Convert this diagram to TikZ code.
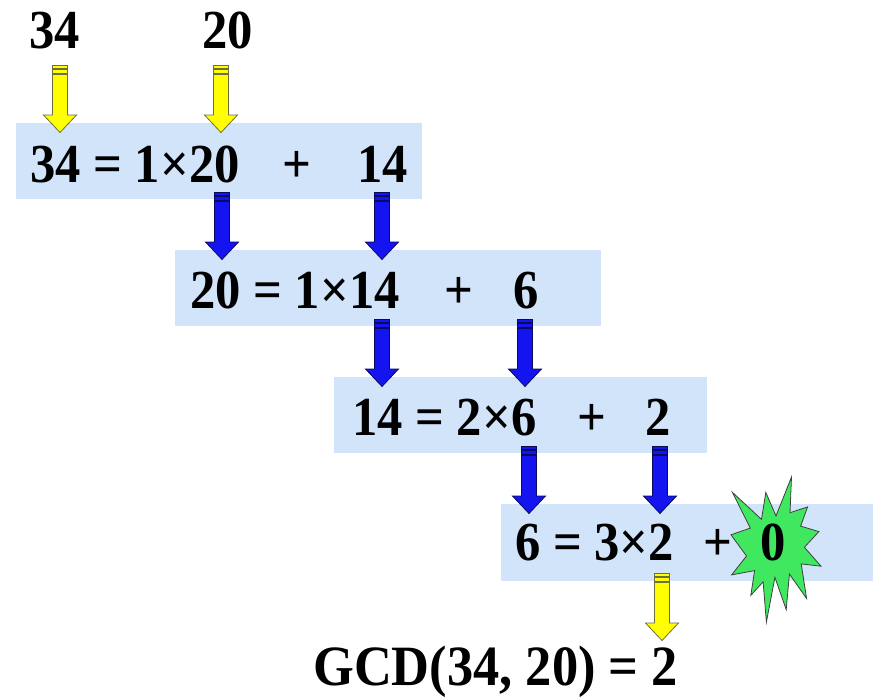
\documentclass[tikz,border=0pt]{standalone}
\usepackage{fontspec}
\usepackage{graphicx}
\setmainfont{Liberation Serif}
\definecolor{boxblue}{RGB}{209,228,250}
\definecolor{arrblue}{RGB}{20,20,240}
\definecolor{arrblueline}{RGB}{10,10,90}
\definecolor{arryellow}{RGB}{255,255,0}
\definecolor{arryellowline}{RGB}{110,110,60}
\definecolor{stargreen}{RGB}{64,232,96}
\newcommand\sq[1]{\scalebox{0.92}[1]{#1}}
\newcommand\blockarr[4]{%
  % #1 = center x, #2 = top y, #3 = fill, #4 = line
  \begin{scope}[shift={(#1,#2)}]
    \filldraw[fill=#3,draw=#4,line width=0.8pt] (-7.5,0) rectangle (7.5,3);
    \filldraw[fill=#3,draw=#4,line width=0.8pt] (-7.5,4.5) rectangle (7.5,8);
    \filldraw[fill=#3,draw=#4,line width=0.8pt,line join=miter]
      (-7.5,9.5) -- (7.5,9.5) -- (7.5,50) -- (16.5,50) -- (0,67.5) -- (-16.5,50) -- (-7.5,50) -- cycle;
  \end{scope}}
\tikzset{
  eq/.style={anchor=base west,inner sep=0pt,font=\fontsize{55}{60}\selectfont\bfseries},
  eqc/.style={anchor=base,inner sep=0pt,font=\fontsize{55}{60}\selectfont\bfseries}
}
\begin{document}
\begin{tikzpicture}[x=1pt,y=-1pt]
\useasboundingbox (0,0) rectangle (876,699);
% boxes
\fill[boxblue] (16,123) rectangle (422,199);
\fill[boxblue] (175,250) rectangle (601,326);
\fill[boxblue] (334,377) rectangle (707,453);
\fill[boxblue] (501,504) rectangle (873,581);
% arrows
\blockarr{60}{65}{arryellow}{arryellowline}
\blockarr{221}{65}{arryellow}{arryellowline}
\blockarr{222}{192}{arrblue}{arrblueline}
\blockarr{382}{192}{arrblue}{arrblueline}
\blockarr{382}{319}{arrblue}{arrblueline}
\blockarr{525}{319}{arrblue}{arrblueline}
\blockarr{529}{446}{arrblue}{arrblueline}
\blockarr{660}{446}{arrblue}{arrblueline}
\blockarr{662}{573}{arryellow}{arryellowline}
% star
\filldraw[fill=stargreen,draw=black!75,line width=0.8pt,line join=miter]
 (776,515.9) -- (791.5,477) -- (790.0,512.7) -- (807.6,506.9) -- (800.6,526.1)
 -- (818.9,531.6) -- (804.4,547.3) -- (821,566.2) -- (801.2,563.9) -- (806.6,598.5)
 -- (789.4,574.0) -- (786.2,609.6) -- (774.9,577.3) -- (766.4,622) -- (763.1,581.9)
 -- (750.8,595.3) -- (754.6,570.6) -- (731.6,574.9) -- (746.5,556.0) -- (731,534.8)
 -- (750.3,528.1) -- (732.5,492.4) -- (761.5,519.4) -- (765.8,492.4) -- cycle;
% texts
\node[eq] (t34) at (29,48) {\sq{34}};
\node[eq] (t20) at (202,48) {\sq{20}};
\node[eq] (e1) at (30,182) {\sq{34 = 1×20}};
\node[eqc] (p1) at (297,182) {\sq{+}};
\node[eq] (r1) at (357,182) {\sq{14}};
\node[eq] (e2) at (190,308) {\sq{20 = 1×14}};
\node[eqc] (p2) at (459,308) {\sq{+}};
\node[eq] (r2) at (513,308) {\sq{6}};
\node[eq] (e3) at (352,435) {\sq{14 = 2×6}};
\node[eqc] (p3) at (592,435) {\sq{+}};
\node[eq] (r3) at (645,435) {\sq{2}};
\node[eq] (e4) at (515,560) {\sq{6 = 3×2}};
\node[eqc] (p4) at (718,560) {\sq{+}};
\node[eqc] (r4) at (773,560) {\sq{0}};
\node[eq,font=\fontsize{57}{62}\selectfont\bfseries] (gcd) at (313,685) {\sq{GCD(34, 20) = 2}};
\end{tikzpicture}
\end{document}
